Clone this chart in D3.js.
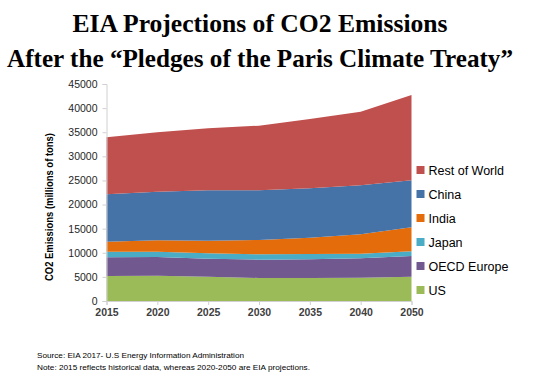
<!DOCTYPE html>
<html><head><meta charset="utf-8">
<script src="https://cdn.jsdelivr.net/npm/d3@7"></script>
<style>body{margin:0;background:#fff}svg{display:block}</style>
</head><body><svg id="c" width="560" height="378"></svg>
<script>
const years = ["2015","2020","2025","2030","2035","2040","2050"];
const seriesNames = ["US","OECD Europe","Japan","India","China","Rest of World"];
const us          = [5180, 5230, 5050, 4770, 4770, 4840, 5050];
const oecdEurope  = [3880, 3900, 3730, 3800, 3870, 4010, 4280];
const japan       = [1170, 1100, 1100, 1110, 1110, 970, 970];
const india       = [2070, 2350, 2630, 2970, 3380, 4010, 4980];
const china       = [9820, 10090, 10440, 10300, 10240, 10160, 9740];
const restOfWorld = [11830, 12310, 12860, 13410, 14370, 15270, 17700];
const yTicks = [0,5000,10000,15000,20000,25000,30000,35000,40000,45000];
const colors = ["#9bbb59","#71588f","#4bacc6","#e46c0a","#4572a7","#c0504d"];

const valuesBySeries = [us, oecdEurope, japan, india, china, restOfWorld];
const table = years.map((y,i)=>{
  const r = {year:y};
  seriesNames.forEach((s,k)=>r[s]=valuesBySeries[k][i]);
  return r;
});

const svg = d3.select("#c");
const x = d3.scalePoint().domain(years).range([106.5, 411.5]);
const y = d3.scaleLinear().domain([0,45000]).range([301, 84]);

const stack = d3.stack().keys(seriesNames)(table);
const area = d3.area().x(d=>x(d.data.year)).y0(d=>y(d[0])).y1(d=>y(d[1]));
svg.append("g").selectAll("path").data(stack).join("path")
  .attr("d", area).attr("fill",(d,i)=>colors[i]);

// axes
const axisColor = "#d0d0d0";
const yAxis = svg.append("g").attr("transform","translate(106.5,0)")
  .call(d3.axisLeft(y).tickValues(yTicks).tickSize(4).tickPadding(5).tickFormat(d3.format("d")));
const xAxis = svg.append("g").attr("transform","translate(0,301)")
  .call(d3.axisBottom(x).tickSize(4).tickPadding(4));
[yAxis,xAxis].forEach(g=>{
  g.select(".domain").attr("stroke",axisColor);
  g.selectAll(".tick line").attr("stroke",axisColor);
  g.selectAll("text").attr("fill","#262626").style("font-family","Liberation Sans, Arial, sans-serif").style("font-size","10.5px");
});
xAxis.selectAll("text").style("font-weight","bold").attr("fill","#404040");

// y title
svg.append("text").attr("transform","translate(53,207) rotate(-90)")
  .attr("text-anchor","middle").style("font-family","Liberation Sans, Arial, sans-serif")
  .style("font-weight","bold").style("font-size","11px").attr("fill","#000")
  .attr("textLength",148).attr("lengthAdjust","spacingAndGlyphs")
  .text("CO2 Emissions (millions of tons)");

// title
const title = ["EIA Projections of CO2 Emissions","After the \u201cPledges of the Paris Climate Treaty\u201d"];
const titleLen = [375, 506];
svg.append("g").selectAll("text").data(title).join("text")
  .attr("x",260).attr("y",(d,i)=>32+i*35).attr("text-anchor","middle")
  .style("font-family","Liberation Serif, Times New Roman, serif").style("font-weight","bold")
  .style("font-size","25.5px").attr("fill","#000")
  .attr("textLength",(d,i)=>titleLen[i]).attr("lengthAdjust","spacingAndGlyphs").text(d=>d);

// legend
const legendOrder = seriesNames.slice().reverse();
const lg = svg.append("g").selectAll("g").data(legendOrder).join("g")
  .attr("transform",(d,i)=>`translate(416.5,${170+i*24})`);
lg.append("rect").attr("x",0).attr("y",-4).attr("width",8).attr("height",8)
  .attr("fill",d=>colors[seriesNames.indexOf(d)]);
lg.append("text").attr("x",12).attr("y",4.5).style("font-family","Liberation Sans, Arial, sans-serif")
  .style("font-size","12.5px").attr("fill","#000").text(d=>d);

// notes
const notes = ["Source: EIA 2017- U.S Energy Information Administration","Note: 2015 reflects historical data, whereas 2020-2050 are EIA projections."];
const noteLen = [207, 273];
svg.append("g").selectAll("text").data(notes).join("text")
  .attr("x",37).attr("y",(d,i)=>358+i*12)
  .style("font-family","Liberation Sans, Arial, sans-serif").style("font-size","8px").attr("fill","#000")
  .attr("textLength",(d,i)=>noteLen[i]).attr("lengthAdjust","spacingAndGlyphs").text(d=>d);
</script></body></html>
